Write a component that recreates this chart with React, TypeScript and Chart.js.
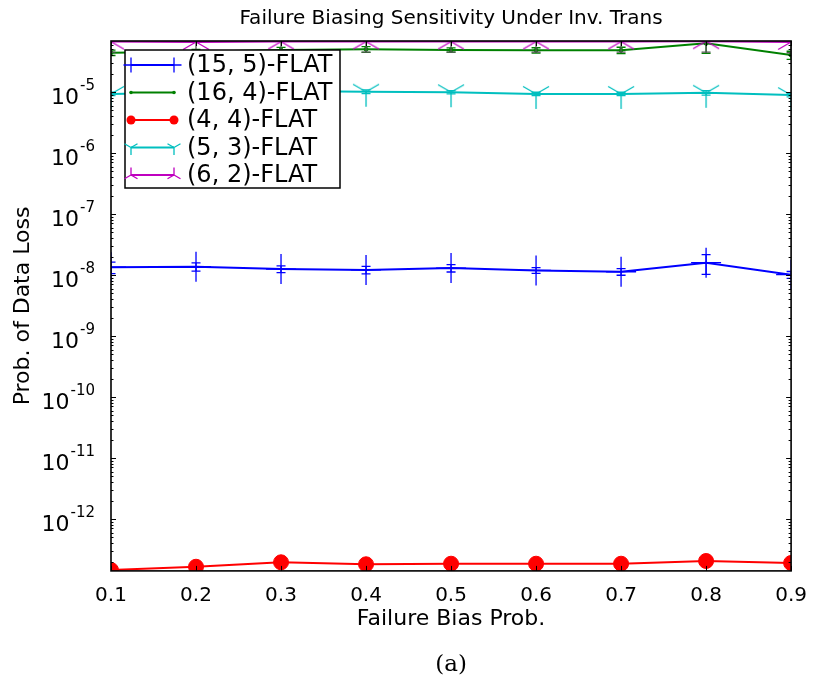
import React, { useEffect, useRef } from "react";
import { Chart, registerables } from "chart.js";

Chart.register(...registerables);

// Failure bias probability (x axis)
const biasProb = [0.1, 0.2, 0.3, 0.4, 0.5, 0.6, 0.7, 0.8, 0.9];

// Probability of data loss per configuration, with symmetric error
const flat15x5 = [1.34e-8, 1.37e-8, 1.25e-8, 1.21e-8, 1.3e-8, 1.19e-8, 1.13e-8, 1.59e-8, 1.01e-8];
const flat15x5Err = [0.29e-8, 0.21e-8, 0.16e-8, 0.17e-8, 0.18e-8, 0.13e-8, 0.14e-8, 0.57e-8, 0.13e-8];

const flat16x4 = [4.4e-5, 4.58e-5, 4.88e-5, 5.01e-5, 4.88e-5, 4.83e-5, 4.83e-5, 6.28e-5, 4.04e-5];
const flat16x4Err = [0.44e-5, 0.41e-5, 0.49e-5, 0.55e-5, 0.39e-5, 0.48e-5, 0.58e-5, 2.0e-5, 0.61e-5];

const flat4x4 = [1.46e-13, 1.65e-13, 1.95e-13, 1.81e-13, 1.85e-13, 1.85e-13, 1.85e-13, 2.05e-13, 1.9e-13];
const flat4x4Err = [0.05e-13, 0.05e-13, 0.06e-13, 0.05e-13, 0.05e-13, 0.05e-13, 0.05e-13, 0.07e-13, 0.05e-13];

const flat5x3 = [9.3e-6, 9.8e-6, 1.04e-5, 1.01e-5, 9.9e-6, 9.3e-6, 9.3e-6, 9.7e-6, 8.9e-6];
const flat5x3Err = [0.6e-6, 0.7e-6, 0.8e-6, 0.7e-6, 0.6e-6, 0.6e-6, 0.6e-6, 0.8e-6, 0.6e-6];

const flat6x2 = [6.7e-5, 6.6e-5, 6.7e-5, 6.7e-5, 6.7e-5, 6.7e-5, 6.7e-5, 6.8e-5, 6.6e-5];
const flat6x2Err = [2.2e-5, 2.2e-5, 2.2e-5, 2.2e-5, 2.2e-5, 2.2e-5, 2.2e-5, 2.3e-5, 2.2e-5];

const seriesLabels = ["(15, 5)-FLAT", "(16, 4)-FLAT", "(4, 4)-FLAT", "(5, 3)-FLAT", "(6, 2)-FLAT"];

// Axis range and decade labels
const yMin = 1.41e-13;
const yMax = 6.85e-5;
const yDecades = [-12, -11, -10, -9, -8, -7, -6, -5];

const FONT = "'DejaVu Sans', sans-serif";
const BLUE = "#0000ff";
const GREEN = "#008000";
const RED = "#ff0000";
const CYAN = "#00bfbf";
const MAGENTA = "#bf00bf";

type Marker = "plus" | "dot" | "circle" | "triDown" | "triUp";

// Three-armed marker drawn on a small canvas (stem up or down)
function triCanvas(color: string, r: number, stemUp: boolean, lw = 1.3) {
  const c = document.createElement("canvas");
  const s = Math.ceil(2 * r + 4);
  c.width = s;
  c.height = s;
  const g = c.getContext("2d")!;
  const cx = s / 2;
  const cy = s / 2;
  const d = stemUp ? -1 : 1;
  g.strokeStyle = color;
  g.lineWidth = lw;
  g.beginPath();
  g.moveTo(cx, cy);
  g.lineTo(cx, cy + d * r);
  g.moveTo(cx, cy);
  g.lineTo(cx - 0.866 * r, cy - d * 0.5 * r);
  g.moveTo(cx, cy);
  g.lineTo(cx + 0.866 * r, cy - d * 0.5 * r);
  g.stroke();
  return c;
}

function drawMarker(ctx: CanvasRenderingContext2D, m: Marker, color: string, x: number, y: number, r: number) {
  ctx.save();
  ctx.strokeStyle = color;
  ctx.fillStyle = color;
  ctx.lineWidth = 1.3;
  ctx.beginPath();
  if (m === "plus") {
    ctx.moveTo(x - r, y);
    ctx.lineTo(x + r, y);
    ctx.moveTo(x, y - r);
    ctx.lineTo(x, y + r);
    ctx.stroke();
  } else if (m === "dot" || m === "circle") {
    ctx.arc(x, y, r, 0, Math.PI * 2);
    ctx.fill();
  } else {
    const d = m === "triUp" ? -1 : 1;
    ctx.moveTo(x, y);
    ctx.lineTo(x, y + d * r);
    ctx.moveTo(x, y);
    ctx.lineTo(x - 0.866 * r, y - d * 0.5 * r);
    ctx.moveTo(x, y);
    ctx.lineTo(x + 0.866 * r, y - d * 0.5 * r);
    ctx.stroke();
  }
  ctx.restore();
}

export default function App() {
  const canvasRef = useRef<HTMLCanvasElement | null>(null);

  useEffect(() => {
    const canvas = canvasRef.current;
    if (!canvas) return;

    const series = [
      { label: seriesLabels[0], values: flat15x5, err: flat15x5Err, color: BLUE, errColor: BLUE, marker: "plus" as Marker, legendR: 7.5 },
      { label: seriesLabels[1], values: flat16x4, err: flat16x4Err, color: GREEN, errColor: GREEN, marker: "dot" as Marker, legendR: 1.8 },
      { label: seriesLabels[2], values: flat4x4, err: flat4x4Err, color: RED, errColor: RED, marker: "circle" as Marker, legendR: 4.5 },
      { label: seriesLabels[3], values: flat5x3, err: flat5x3Err, color: CYAN, errColor: CYAN, marker: "triDown" as Marker, legendR: 7.5 },
      { label: seriesLabels[4], values: flat6x2, err: flat6x2Err, color: MAGENTA, errColor: "#555555", marker: "triUp" as Marker, legendR: 7.5 },
    ];

    const pointStyles: any[] = [
      "cross",
      "circle",
      "circle",
      triCanvas(CYAN, 15, false),
      triCanvas(MAGENTA, 15, true),
    ];
    const pointRadii = [15, 2, 7.5, 15, 15];

    const datasets = series.map((s, i) => ({
      label: s.label,
      data: biasProb.map((x, j) => ({ x, y: s.values[j] })),
      borderColor: s.color,
      backgroundColor: s.color,
      borderWidth: 2,
      pointStyle: pointStyles[i],
      pointRadius: pointRadii[i],
      pointBorderWidth: i === 0 ? 1.3 : 1,
      pointBorderColor: s.color,
      pointBackgroundColor: s.color,
      tension: 0,
      order: 5 - i,
    }));

    const CAP = 4.5;

    const errorBars = {
      id: "errorBars",
      afterDatasetsDraw(chart: any) {
        const { ctx, chartArea: a, scales } = chart;
        const xs = scales.x;
        const ys = scales.y;
        ctx.save();
        ctx.beginPath();
        ctx.rect(a.left, a.top, a.right - a.left, a.bottom - a.top);
        ctx.clip();
        ctx.lineWidth = 1.3;
        series.forEach((s) => {
          ctx.strokeStyle = s.errColor;
          s.values.forEach((v, j) => {
            const e = s.err[j];
            const px = xs.getPixelForValue(biasProb[j]);
            const hi = ys.getPixelForValue(v + e);
            const lo = ys.getPixelForValue(Math.max(v - e, 1e-30));
            ctx.beginPath();
            ctx.moveTo(px, hi);
            ctx.lineTo(px, lo);
            ctx.moveTo(px - CAP, hi);
            ctx.lineTo(px + CAP, hi);
            ctx.moveTo(px - CAP, lo);
            ctx.lineTo(px + CAP, lo);
            ctx.stroke();
          });
        });
        ctx.restore();
      },
    };

    const frameAndLegend = {
      id: "frameAndLegend",
      afterDraw(chart: any) {
        const { ctx, chartArea: a, scales } = chart;
        const xs = scales.x;
        const ys = scales.y;
        ctx.save();

        // tick marks pointing inward on all four sides
        ctx.strokeStyle = "#000";
        ctx.lineWidth = 1;
        ctx.beginPath();
        biasProb.forEach((v) => {
          const px = Math.round(xs.getPixelForValue(v)) + 0.5;
          ctx.moveTo(px, a.bottom);
          ctx.lineTo(px, a.bottom - 5);
          ctx.moveTo(px, a.top);
          ctx.lineTo(px, a.top + 5);
        });
        for (let k = -14; k <= -4; k++) {
          for (let m = 1; m <= 9; m++) {
            const v = m * Math.pow(10, k);
            if (v < yMin || v > yMax) continue;
            const py = Math.round(ys.getPixelForValue(v)) + 0.5;
            const len = m === 1 ? 5 : 2.5;
            ctx.moveTo(a.left, py);
            ctx.lineTo(a.left + len, py);
            ctx.moveTo(a.right, py);
            ctx.lineTo(a.right - len, py);
          }
        }
        ctx.stroke();

        // axes frame
        ctx.lineWidth = 1.6;
        ctx.strokeRect(a.left, a.top, a.right - a.left, a.bottom - a.top);

        // decade labels 10^k
        ctx.fillStyle = "#000";
        ctx.textBaseline = "middle";
        ctx.textAlign = "right";
        const rightEdge = a.left - 16;
        yDecades.forEach((k) => {
          const py = ys.getPixelForValue(Math.pow(10, k));
          const exp = "-" + String(-k);
          ctx.font = `15px ${FONT}`;
          const ew = ctx.measureText(exp).width;
          ctx.fillText(exp, rightEdge, py - 6);
          ctx.font = `22px ${FONT}`;
          ctx.fillText("10", rightEdge - ew - 1, py + 6);
        });

        // legend
        const lx = a.left + 14;
        const ly = a.top + 9;
        const lw = 215;
        const lh = 138;
        ctx.fillStyle = "#fff";
        ctx.fillRect(lx, ly, lw, lh);
        ctx.lineWidth = 1.5;
        ctx.strokeStyle = "#000";
        ctx.strokeRect(lx, ly, lw, lh);
        series.forEach((s, i) => {
          const ry = ly + 15 + i * 27.5;
          const x0 = lx + 6;
          const x1 = lx + 49;
          ctx.strokeStyle = s.color;
          ctx.lineWidth = 2;
          ctx.beginPath();
          ctx.moveTo(x0, ry);
          ctx.lineTo(x1, ry);
          ctx.stroke();
          drawMarker(ctx, s.marker, s.color, x0, ry, s.legendR);
          drawMarker(ctx, s.marker, s.color, x1, ry, s.legendR);
          ctx.fillStyle = "#000";
          ctx.font = `24px ${FONT}`;
          ctx.textAlign = "left";
          ctx.textBaseline = "middle";
          ctx.fillText(s.label, lx + 62, ry + 1);
        });

        ctx.restore();
      },
    };

    const chart = new Chart(canvas, {
      type: "line",
      data: { datasets },
      options: {
        animation: false,
        responsive: false,
        devicePixelRatio: 1,
        layout: { padding: { left: 0, right: 24, top: 0, bottom: 0 } },
        plugins: {
          legend: { display: false },
          tooltip: { enabled: false },
          title: {
            display: true,
            fullSize: false,
            text: "Failure Biasing Sensitivity Under Inv. Trans",
            color: "#000",
            font: { family: FONT, size: 20, weight: "normal" },
            padding: { top: 7, bottom: 10 },
          },
          subtitle: {
            display: true,
            fullSize: false,
            position: "bottom",
            text: "(a)",
            color: "#000",
            font: { family: "'DejaVu Serif', 'Liberation Serif', serif", size: 23, weight: "normal" },
            padding: { top: 11.5, bottom: 11 },
          },
        },
        scales: {
          x: {
            type: "linear",
            min: 0.1,
            max: 0.9,
            grid: { display: false, drawTicks: false },
            border: { display: false },
            ticks: {
              stepSize: 0.1,
              autoSkip: false,
              maxRotation: 0,
              padding: 13,
              color: "#000",
              font: { family: FONT, size: 20 },
              callback: (v: any) => Number(v).toFixed(1),
            },
            title: {
              display: true,
              text: "Failure Bias Prob.",
              color: "#000",
              font: { family: FONT, size: 22 },
              padding: { top: 0, bottom: 7 },
            },
            afterFit: (s: any) => {
              s.height = 69;
            },
          },
          y: {
            type: "logarithmic",
            min: yMin,
            max: yMax,
            grid: { display: false, drawTicks: false },
            border: { display: false },
            ticks: { display: false },
            title: {
              display: true,
              text: "Prob. of Data Loss",
              color: "#000",
              font: { family: FONT, size: 22 },
              padding: { top: 10, bottom: 0 },
            },
            afterFit: (s: any) => {
              s.width = 111;
            },
          },
        },
      } as any,
      plugins: [errorBars, frameAndLegend],
    });

    return () => chart.destroy();
  }, []);

  return (
    <div style={{ position: "absolute", left: 0, top: 0, width: 820, height: 690, background: "#fff" }}>
      <canvas ref={canvasRef} width={820} height={690} style={{ width: 820, height: 690 }} />
    </div>
  );
}
